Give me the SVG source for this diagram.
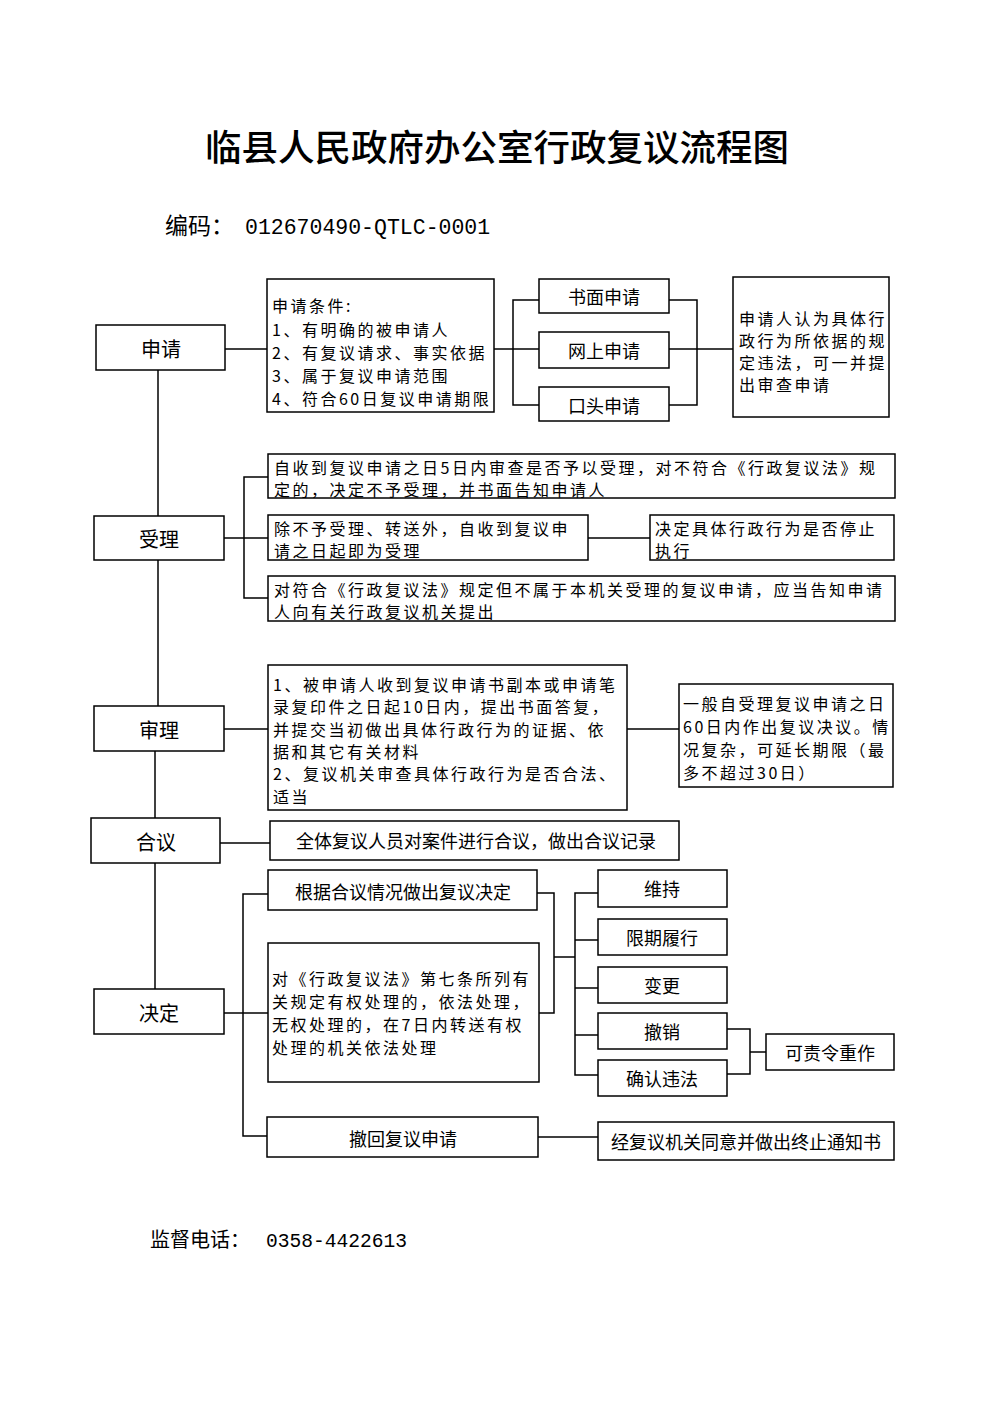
<svg xmlns="http://www.w3.org/2000/svg" width="993" height="1404" viewBox="0 0 993 1404">
<style>
rect{fill:#fff;stroke:#000;stroke-width:1.5}
.c line,.c polyline{stroke:#000;stroke-width:1.5;fill:none}
text{font-family:"Noto Sans CJK SC","Liberation Sans",sans-serif;fill:#000;dominant-baseline:central}
.t{font-size:16px;letter-spacing:2.5px}
.n{font-size:20px;text-anchor:middle}
.m{font-size:18px;text-anchor:middle}
.mono{font-family:"Liberation Mono","Noto Sans CJK SC",monospace}
.ab{dominant-baseline:alphabetic}
</style>
<rect x="0" y="0" width="993" height="1404" style="stroke:none"/>
<text x="497" y="145" style="font-size:36.5px;text-anchor:middle;font-weight:500">临县人民政府办公室行政复议流程图</text>
<text class="ab" x="165" y="234" style="font-size:23px">编码：<tspan class="mono" x="245" style="font-size:21.5px">012670490-QTLC-0001</tspan></text>
<text class="ab" x="150" y="1247" style="font-size:20px">监督电话：<tspan class="mono" x="266" style="font-size:19.6px">0358-4422613</tspan></text>

<g class="c" id="connectors">
<line x1="158" y1="370" x2="158" y2="516"/>
<line x1="158" y1="560" x2="158" y2="706"/>
<line x1="155" y1="751" x2="155" y2="818"/>
<line x1="155" y1="863" x2="155" y2="989"/>
<line x1="225" y1="349" x2="267" y2="349"/>
<line x1="494" y1="349" x2="513" y2="349"/>
<polyline points="539,300 513,300 513,405 539,405"/>
<line x1="513" y1="349" x2="539" y2="349"/>
<polyline points="669,300 697,300 697,405 669,405"/>
<line x1="669" y1="349" x2="733" y2="349"/>
<line x1="224" y1="538" x2="268" y2="538"/>
<polyline points="268,477 244,477 244,598 268,598"/>
<line x1="588" y1="538" x2="650" y2="538"/>
<line x1="224" y1="729" x2="268" y2="729"/>
<line x1="627" y1="729" x2="679" y2="729"/>
<line x1="220" y1="843" x2="270" y2="843"/>
<line x1="224" y1="1013" x2="268" y2="1013"/>
<polyline points="268,894 243,894 243,1136 267,1136"/>
<polyline points="537,893 554,893 554,1013 539,1013"/>
<line x1="554" y1="957" x2="575" y2="957"/>
<polyline points="598,893 575,893 575,1075 598,1075"/>
<line x1="575" y1="940" x2="598" y2="940"/>
<line x1="575" y1="988" x2="598" y2="988"/>
<line x1="575" y1="1035" x2="598" y2="1035"/>
<polyline points="727,1029 750,1029 750,1074 727,1074"/>
<line x1="750" y1="1052" x2="766" y2="1052"/>
<line x1="538" y1="1137" x2="598" y2="1137"/>
</g>

<g id="n-shenqing"><rect x="96" y="325" width="129" height="45"/><text class="n" x="161" y="348">申请</text></g>
<g id="n-tiaojian"><rect x="267" y="279" width="227" height="133"/>
<text class="t" x="272" y="305">申请条件:</text>
<text class="t" x="272" y="329">1、有明确的被申请人</text>
<text class="t" x="272" y="352">2、有复议请求、事实依据</text>
<text class="t" x="272" y="375">3、属于复议申请范围</text>
<text class="t" x="272" y="398">4、符合60日复议申请期限</text></g>
<g id="n-shumian"><rect x="539" y="279" width="130" height="34"/><text class="m" x="604" y="296">书面申请</text></g>
<g id="n-wangshang"><rect x="539" y="332" width="130" height="36"/><text class="m" x="604" y="350">网上申请</text></g>
<g id="n-koutou"><rect x="539" y="387" width="130" height="34"/><text class="m" x="604" y="405">口头申请</text></g>
<g id="n-shencha"><rect x="733" y="277" width="156" height="140"/>
<text class="t" x="739" y="318">申请人认为具体行</text>
<text class="t" x="739" y="340">政行为所依据的规</text>
<text class="t" x="739" y="362">定违法，可一并提</text>
<text class="t" x="739" y="384">出审查申请</text></g>

<g id="n-shouli"><rect x="94" y="516" width="130" height="44"/><text class="n" x="159" y="538">受理</text></g>
<g id="n-shouli1"><rect x="268" y="454" width="627" height="44"/>
<text class="t" x="274" y="467">自收到复议申请之日5日内审查是否予以受理，对不符合《行政复议法》规</text>
<text class="t" x="274" y="489">定的，决定不予受理，并书面告知申请人</text></g>
<g id="n-shouli2"><rect x="268" y="515" width="320" height="45"/>
<text class="t" x="274" y="528">除不予受理、转送外，自收到复议申</text>
<text class="t" x="274" y="550">请之日起即为受理</text></g>
<g id="n-tingzhi"><rect x="650" y="515" width="244" height="45"/>
<text class="t" x="655" y="528">决定具体行政行为是否停止</text>
<text class="t" x="655" y="550">执行</text></g>
<g id="n-shouli3"><rect x="268" y="576" width="627" height="45"/>
<text class="t" x="274" y="589">对符合《行政复议法》规定但不属于本机关受理的复议申请，应当告知申请</text>
<text class="t" x="274" y="611">人向有关行政复议机关提出</text></g>

<g id="n-shenli"><rect x="94" y="706" width="130" height="45"/><text class="n" x="159" y="729">审理</text></g>
<g id="n-shenli1"><rect x="268" y="665" width="359" height="145"/>
<text class="t" x="273" y="684">1、被申请人收到复议申请书副本或申请笔</text>
<text class="t" x="273" y="706">录复印件之日起10日内，提出书面答复，</text>
<text class="t" x="273" y="729">并提交当初做出具体行政行为的证据、依</text>
<text class="t" x="273" y="751">据和其它有关材料</text>
<text class="t" x="273" y="773">2、复议机关审查具体行政行为是否合法、</text>
<text class="t" x="273" y="796">适当</text></g>
<g id="n-qixian"><rect x="679" y="684" width="214" height="103"/>
<text class="t" x="683" y="703">一般自受理复议申请之日</text>
<text class="t" x="683" y="726">60日内作出复议决议。情</text>
<text class="t" x="683" y="749">况复杂，可延长期限（最</text>
<text class="t" x="683" y="772">多不超过30日）</text></g>

<g id="n-heyi"><rect x="91" y="818" width="129" height="45"/><text class="n" x="156" y="841">合议</text></g>
<g id="n-heyi1"><rect x="270" y="821" width="409" height="39"/><text class="m" x="476" y="840">全体复议人员对案件进行合议，做出合议记录</text></g>

<g id="n-jueding"><rect x="94" y="989" width="130" height="45"/><text class="n" x="159" y="1012">决定</text></g>
<g id="n-jueding1"><rect x="268" y="870" width="269" height="40"/><text class="m" x="403" y="891">根据合议情况做出复议决定</text></g>
<g id="n-jueding2"><rect x="268" y="943" width="271" height="139"/>
<text class="t" x="272" y="978">对《行政复议法》第七条所列有</text>
<text class="t" x="272" y="1001">关规定有权处理的，依法处理，</text>
<text class="t" x="272" y="1024">无权处理的，在7日内转送有权</text>
<text class="t" x="272" y="1047">处理的机关依法处理</text></g>
<g id="n-chehui"><rect x="267" y="1117" width="271" height="40"/><text class="m" x="403" y="1138">撤回复议申请</text></g>
<g id="n-weichi"><rect x="598" y="870" width="129" height="37"/><text class="m" x="662" y="888">维持</text></g>
<g id="n-lvxing"><rect x="598" y="919" width="129" height="36"/><text class="m" x="662" y="937">限期履行</text></g>
<g id="n-biangeng"><rect x="598" y="967" width="129" height="36"/><text class="m" x="662" y="985">变更</text></g>
<g id="n-chexiao"><rect x="598" y="1013" width="129" height="36"/><text class="m" x="662" y="1031">撤销</text></g>
<g id="n-weifa"><rect x="598" y="1060" width="129" height="36"/><text class="m" x="662" y="1078">确认违法</text></g>
<g id="n-chongzuo"><rect x="766" y="1034" width="128" height="36"/><text class="m" x="830" y="1052">可责令重作</text></g>
<g id="n-zhongzhi"><rect x="598" y="1122" width="296" height="38"/><text class="m" x="746" y="1141">经复议机关同意并做出终止通知书</text></g>
</svg>
